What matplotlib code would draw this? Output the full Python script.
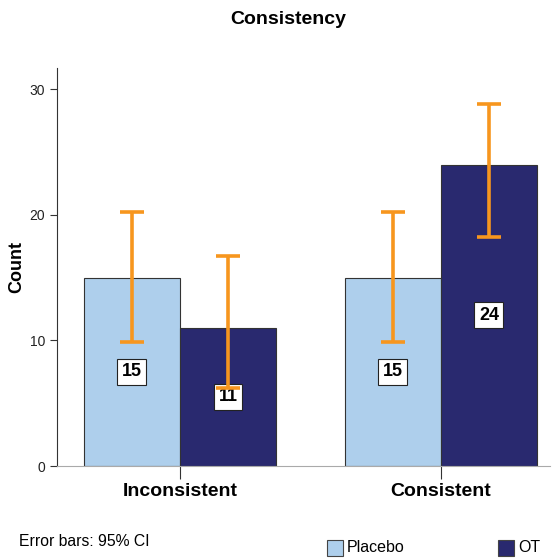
import numpy as np
import matplotlib
matplotlib.use("Agg")
from matplotlib import pyplot as plt
from matplotlib.patches import Rectangle

categories = ["Inconsistent", "Consistent"]
groups = ["Placebo", "OT"]
placebo = [15, 15]
ot = [11, 24]
placebo_lo = [9.9, 9.9]
placebo_hi = [20.2, 20.2]
ot_lo = [6.2, 18.2]
ot_hi = [16.7, 28.8]

colors = ["#aecfec", "#29296f"]
err_color = "#f7961e"

plt.rcParams['font.family'] = ['Liberation Sans', 'DejaVu Sans']

fig = plt.figure(figsize=(5.53, 5.58), dpi=100)
ax = fig.add_axes([57/553, 92/558, 493/553, 398/558])

x = np.arange(len(categories))
w = 0.368
series = [(placebo, placebo_lo, placebo_hi), (ot, ot_lo, ot_hi)]
for i, (vals, lo, hi) in enumerate(series):
    pos = x + (i - 0.5) * w
    ax.bar(pos, vals, width=w, color=colors[i], edgecolor="#333333", linewidth=0.8, zorder=2)
    yerr = [np.array(vals) - np.array(lo), np.array(hi) - np.array(vals)]
    ax.errorbar(pos, vals, yerr=yerr, fmt="none", ecolor=err_color, elinewidth=2.6,
                capsize=8.5, capthick=2.6, zorder=5)
    for p, v in zip(pos, vals):
        ax.text(p, v / 2, str(v), ha="center", va="center", fontsize=13, fontweight="bold",
                zorder=4, bbox=dict(boxstyle="square,pad=0.25", fc="white", ec="#222222", lw=0.8))

ax.set_xlim(-0.471, 1.418)
ax.set_ylim(0, 31.7)
ax.set_yticks([0, 10, 20, 30])
ax.tick_params(axis="y", labelsize=10, length=5, color="#333333", labelcolor="#222222")
ax.set_xticks(x)
ax.set_xticklabels(categories, fontsize=14, fontweight="bold")
ax.tick_params(axis="x", length=9, color="#333333", pad=3)
ax.spines["top"].set_visible(False)
ax.spines["right"].set_visible(False)
ax.spines["left"].set_color("#333333")
ax.spines["bottom"].set_color("#aaaaaa")
ax.set_ylabel("Count", fontsize=13, fontweight="bold", labelpad=3)

fig.text(288/553, 1 - 19/558, "Consistency", ha="center", va="center", fontsize=14, fontweight="bold")
fig.text(19/553, 1 - 541/558, "Error bars: 95% CI", ha="left", va="center", fontsize=11.3)

for xp, lab, c in [(327, "Placebo", colors[0]), (498, "OT", colors[1])]:
    fig.patches.append(Rectangle((xp/553, 1 - 556/558), 16/553, 16/558, transform=fig.transFigure,
                                 facecolor=c, edgecolor="#444444", linewidth=0.8))
    fig.text((xp + 20)/553, 1 - 548/558, lab, ha="left", va="center", fontsize=11.5)

fig.savefig("out.png", dpi=100)
